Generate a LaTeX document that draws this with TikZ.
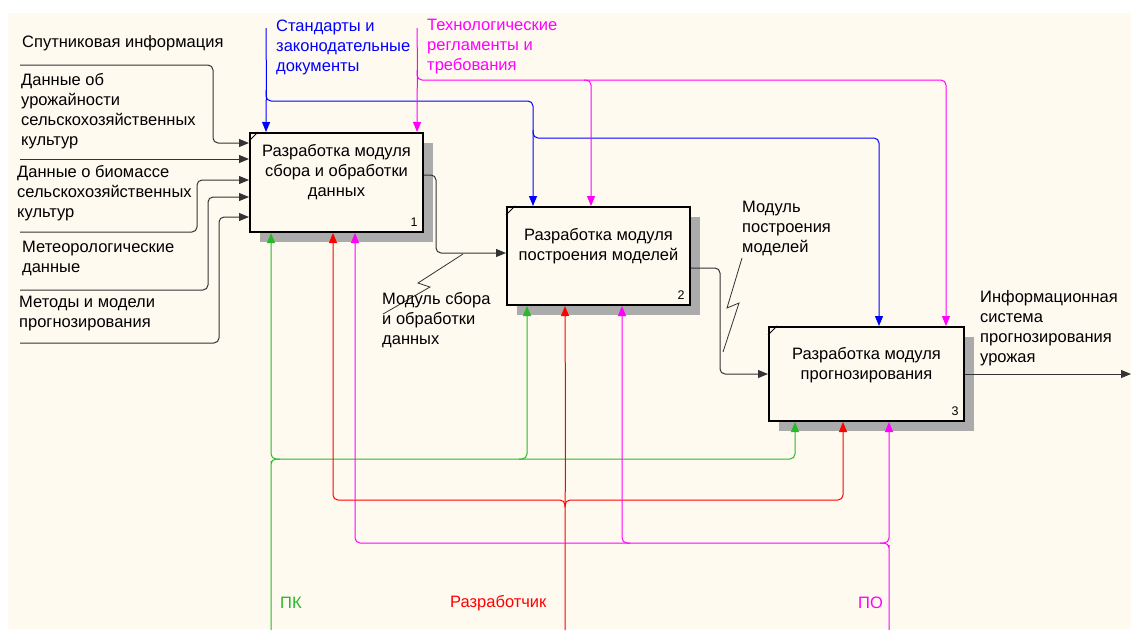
\documentclass[tikz,border=0pt]{standalone}
\usepackage{fontspec}
\setmainfont{Liberation Sans}
\usetikzlibrary{arrows.meta,shadows}

\definecolor{paper}{RGB}{255,250,240}
\definecolor{ctlblue}{RGB}{0,0,255}
\definecolor{ctlmag}{RGB}{255,0,255}
\definecolor{mechgreen}{RGB}{40,185,40}
\definecolor{mechred}{RGB}{255,0,0}

\tikzset{
  func/.style={draw,line width=2pt,fill=paper,
    drop shadow={shadow xshift=10pt,shadow yshift=-10pt,fill=black!33,opacity=1}},
  boxtext/.style={align=center,inner sep=0pt},
  num/.style={inner sep=0pt,font=\fontsize{12.5}{12.5}\selectfont},
  lbl/.style={inner sep=0pt,align=left,anchor=west},
  flow/.style={line width=1pt,color=#1,rounded corners=5pt,
    -{Triangle[length=10pt,width=8pt]}},
  flow/.default=black!80,
  zig/.style={line width=0.8pt,draw=black!80}
}

\begin{document}
\begin{tikzpicture}
  [x=1pt,y=-1pt,font=\fontsize{16.5}{20}\selectfont]
  \useasboundingbox (0,0) rectangle (1131,630);
  \fill[paper] (8,13) rectangle (1131,629);

  % function boxes
  \node[func,minimum width=173pt,minimum height=99pt] (b1) at (336.5,182.5) {};
  \node[func,minimum width=183pt,minimum height=98pt] (b2) at (598.5,256) {};
  \node[func,minimum width=195pt,minimum height=94pt] (b3) at (866.5,374) {};

  \node[boxtext] (t1) at ([yshift=10pt]b1.center) {Разработка модуля\\сбора и обработки\\данных};
  \node[boxtext] (t2) at ([yshift=10pt]b2.center) {Разработка модуля\\построения моделей};
  \node[boxtext] (t3) at ([yshift=9pt]b3.center) {Разработка модуля\\прогнозирования};

  \foreach \b/\n in {b1/1,b2/2,b3/3}{
    \node[num] (num\n) at ([shift={(-10pt,11pt)}]\b.south east) {\n};
    \draw[line width=1pt] ([yshift=-9pt]\b.north west) -- ([xshift=9pt]\b.north west);
  }

  % inputs
  \coordinate (in1) at (20,65);
  \coordinate (in2) at (20,159);
  \coordinate (in3) at (20,232);
  \coordinate (in4) at (20,290);
  \coordinate (in5) at (20,343);
  \draw[flow] (in1) -| (213,143) -- (b1.west |- 0,143);
  \draw[flow] (in2) -- (b1.west |- in2);
  \draw[flow] (in3) -| (197,180) -- (b1.west |- 0,180);
  \draw[flow] (in4) -| (208,197) -- (b1.west |- 0,197);
  \draw[flow] (in5) -| (219,217) -- (b1.west |- 0,217);

  \node[lbl] (lin1) at (22,43) {Спутниковая информация};
  \node[lbl] (lin2) at (21,111.5) {Данные об\\урожайности\\сельскохозяйственных\\культур};
  \node[lbl] (lin3) at (17,193) {Данные о биомассе\\сельскохозяйственных\\культур};
  \node[lbl] (lin4) at (22,258) {Метеорологические\\данные};
  \node[lbl] (lin5) at (19,314) {Методы и модели\\прогнозирования};

  % controls
  \coordinate (ctl1) at (266,28);
  \coordinate (ctl2) at (417,28);
  \draw[flow=ctlblue] (ctl1) -- (266.4,80) -- (ctl1 |- b1.north);
  \draw[flow=ctlblue] (266,90) |- (533,101) -- (533,0 |- b2.north);
  \draw[flow=ctlblue] (533,130) |- (879,138) -- (879,0 |- b3.north);
  \draw[flow=ctlmag] (ctl2) -- (417.4,60) -- (ctl2 |- b1.north);
  \draw[flow=ctlmag] (417,70) |- (946,80) -- (946,0 |- b3.north);
  \draw[flow=ctlmag] (584,80) -| (591,0 |- b2.north);

  \node[lbl,text=ctlblue] (lctl1) at (276,47) {Стандарты и\\законодательные\\документы};
  \node[lbl,text=ctlmag] (lctl2) at (427,47) {Технологические\\регламенты и\\требования};

  % mechanisms
  \coordinate (m1) at (271,630);
  \coordinate (m2) at (565,630);
  \coordinate (m3) at (889,630);
  \draw[flow=mechgreen] (m1) -- (271,466) |- (795,459) -- (795,0 |- b3.south);
  \draw[flow=mechgreen] (280,459) -| (m1 |- b1.south);
  \draw[flow=mechgreen] (519,459) -| (527,0 |- b2.south);
  \draw[flow=mechred] (m2) -- (565.4,400) -- (m2 |- b2.south);
  \draw[flow=mechred] (565,507) |- (333,500) -- (333,0 |- b1.south);
  \draw[flow=mechred] (565,507) |- (843,500) -- (843,0 |- b3.south);
  \draw[flow=ctlmag] (m3) -- (889,550) |- (355,543) -- (355,0 |- b1.south);
  \draw[flow=ctlmag] (880,543) -| (m3 |- b3.south);
  \draw[flow=ctlmag] (630,543) -| (622,0 |- b2.south);

  \node[lbl,text=mechgreen] (lm1) at (280,603) {ПК};
  \node[lbl,text=mechred] (lm2) at (450,603) {Разработчик};
  \node[lbl,text=ctlmag] (lm3) at (858,603) {ПО};

  % outputs
  \coordinate (out) at (1131,374);
  \draw[flow] (b1.east |- 0,175) -| (436,253) -- (b2.west |- 0,253);
  \draw[flow] (b2.east |- 0,268) -| (720,374) -- (b3.west |- 0,374);
  \draw[flow] (b3.east |- out) -- (out);

  \draw[zig] (383,314) -- (430,287) -- (418,283) -- (463,254);
  \draw[zig] (742,258) -- (727,308) -- (739,303) -- (723,352);

  \node[lbl] (lout1) at (382,320) {Модуль сбора\\и обработки\\данных};
  \node[lbl] (lout2) at (742,228) {Модуль\\построения\\моделей};
  \node[lbl] (lout3) at (980,328) {Информационная\\система\\прогнозирования\\урожая};
\end{tikzpicture}
\end{document}
